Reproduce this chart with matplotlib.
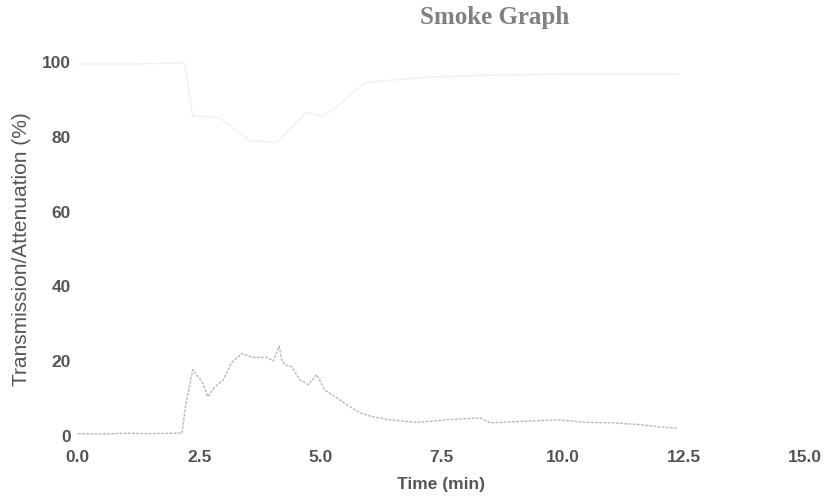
import matplotlib
matplotlib.use("Agg")
import matplotlib.pyplot as plt

# attenuation curve (min, %)
att_time = [0.0, 0.5, 1.0, 1.5, 2.0, 2.15, 2.22, 2.37, 2.56, 2.68, 2.82, 3.0, 3.17, 3.38,
            3.61, 3.9, 4.03, 4.15, 4.2, 4.27, 4.41, 4.58, 4.75, 4.93, 5.09, 5.34, 5.55,
            5.81, 6.08, 6.43, 7.0, 7.6, 8.3, 8.5, 9.2, 9.9, 10.5, 11.0, 11.6, 12.0, 12.35]
att_val = [0.6, 0.5, 0.7, 0.6, 0.7, 0.8, 8.0, 17.7, 14.5, 10.5, 13.0, 15.0, 19.6, 22.0,
           21.0, 21.0, 20.0, 24.0, 20.5, 19.0, 18.5, 15.0, 13.7, 16.4, 12.3, 10.2, 8.3,
           6.2, 5.1, 4.3, 3.6, 4.3, 4.8, 3.5, 3.9, 4.3, 3.6, 3.5, 3.0, 2.4, 2.1]

# transmission curve (min, %)
tr_time = [0.0, 1.13, 2.2, 2.37, 2.66, 2.93, 3.55, 4.1, 4.72, 5.05, 5.34, 5.67, 5.96,
           7.2, 8.5, 10.0, 11.5, 12.4]
tr_val = [99.5, 99.5, 99.8, 85.5, 85.5, 85.0, 79.0, 78.5, 86.6, 85.5, 88.0, 92.0, 94.6,
          96.0, 96.5, 96.8, 96.8, 96.8]

x_ticks = [0.0, 2.5, 5.0, 7.5, 10.0, 12.5, 15.0]
y_ticks = [0, 20, 40, 60, 80, 100]

fig = plt.figure(figsize=(8.29, 4.97), dpi=100)
ax = fig.add_axes([0.094, 0.123, 0.877, 0.752])

ax.plot(tr_time, tr_val, color='#f0f0f0', linewidth=1.0)
ax.plot(att_time, att_val, color='#b8b8b8', linewidth=1.0, linestyle=(0, (2, 1)))

ax.set_xlim(0, 15)
ax.set_ylim(0, 100)
ax.set_xticks(x_ticks)
ax.set_xticklabels([f"{v:.1f}" for v in x_ticks])
ax.set_yticks(y_ticks)

for s in ax.spines.values():
    s.set_visible(False)
ax.tick_params(length=0, labelsize=12.5, labelcolor='#555555')
ax.tick_params(axis='x', pad=10)
ax.tick_params(axis='y', pad=5)
for lbl in ax.get_xticklabels() + ax.get_yticklabels():
    lbl.set_fontfamily('Liberation Sans')
    lbl.set_fontweight('bold')

ax.set_xlabel('Time (min)', fontsize=12.5, color='#555555', family='Liberation Sans',
              fontweight='bold', labelpad=9)
ax.set_ylabel('Transmission/Attenuation (%)', fontsize=15, color='#555555',
              family='Liberation Sans', labelpad=8)

fig.text(0.597, 0.964, 'Smoke Graph', ha='center', va='center', fontsize=18,
         family='Liberation Serif', fontweight='bold', color='#808080')

fig.savefig('out.png', dpi=100, facecolor='white')
